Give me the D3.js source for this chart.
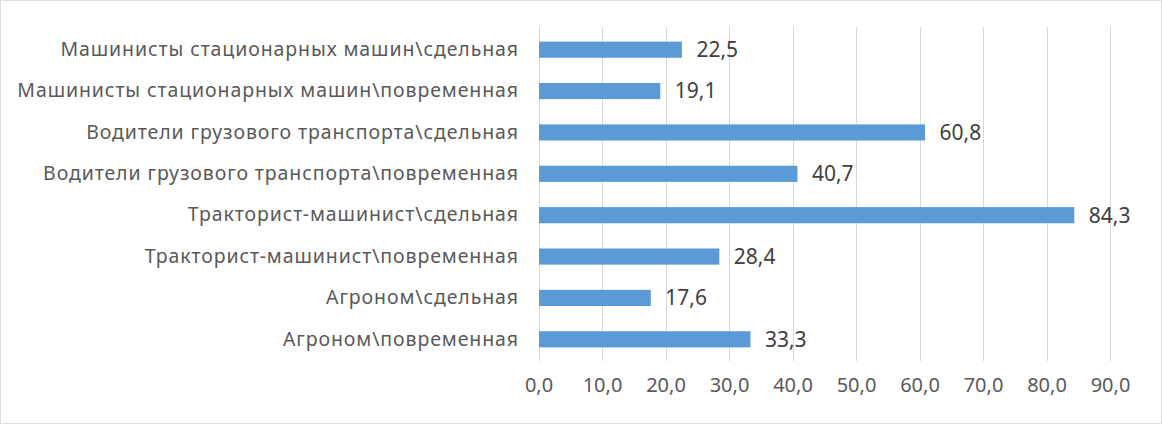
<!DOCTYPE html>
<html><head><meta charset="utf-8">
<script src="https://cdn.jsdelivr.net/npm/d3@7"></script>
<style>
html,body{margin:0;padding:0;background:#fff;}
svg{display:block;}
</style></head>
<body>
<svg id="chart" width="1162" height="424"></svg>
<script>
const categories = [
  "Машинисты стационарных машин\\сдельная",
  "Машинисты стационарных машин\\повременная",
  "Водители грузового транспорта\\сдельная",
  "Водители грузового транспорта\\повременная",
  "Тракторист-машинист\\сдельная",
  "Тракторист-машинист\\повременная",
  "Агроном\\сдельная",
  "Агроном\\повременная"
];
const values = [22.5, 19.1, 60.8, 40.7, 84.3, 28.4, 17.6, 33.3];
const tickValues = [0, 10, 20, 30, 40, 50, 60, 70, 80, 90];

const svg = d3.select("#chart");
const W = 1162, H = 424;
const fontFam = "'Noto Sans', 'Open Sans', sans-serif";

svg.append("rect").attr("x",0.5).attr("y",0.5).attr("width",W-1).attr("height",H-1)
  .attr("fill","#fff").attr("stroke","#bfbfbf").attr("stroke-dasharray","1,1");

const x = d3.scaleLinear().domain([0,90]).range([538.5,1110]);
const y = d3.scaleBand().domain(categories).range([29,360]).paddingInner(0.61).paddingOuter(0.305);

const fmt = v => d3.format(".1f")(v).replace(".", ",");

// gridlines
svg.append("g").selectAll("line").data(tickValues).join("line")
  .attr("x1", d=>Math.round(x(d))+0.5).attr("x2", d=>Math.round(x(d))+0.5)
  .attr("y1", 27).attr("y2", 361)
  .attr("stroke","#d9d9d9").attr("stroke-width",1);

// x axis labels
const xAxis = d3.axisBottom(x).tickValues(tickValues).tickFormat(fmt).tickSize(0).tickPadding(0);
const gx = svg.append("g").attr("transform","translate(0,378)").call(xAxis);
gx.select(".domain").remove();
gx.selectAll("text").attr("font-family",fontFam).attr("font-size",20).attr("fill","#595959").attr("dy","0.71em");

// y axis labels
const yAxis = d3.axisLeft(y).tickSize(0).tickPadding(0);
const gy = svg.append("g").attr("transform","translate(519,0)").call(yAxis);
gy.select(".domain").remove();
gy.selectAll("text").attr("font-family",fontFam).attr("font-size",19.5)
  .attr("letter-spacing","0.9").attr("fill","#595959");

// bars
svg.append("g").selectAll("rect").data(values).join("rect")
  .attr("x", x(0)+0.5)
  .attr("y", (d,i)=>y(categories[i]))
  .attr("width", d=>x(d)-x(0))
  .attr("height", y.bandwidth())
  .attr("fill","#5b9bd5");

// value labels
svg.append("g").selectAll("text").data(values).join("text")
  .attr("x", d=>x(d)+15)
  .attr("y", (d,i)=>y(categories[i])+y.bandwidth()/2)
  .attr("dy","0.35em")
  .attr("font-family",fontFam).attr("font-size",21).attr("fill","#404040")
  .text(fmt);
</script>
</body></html>
